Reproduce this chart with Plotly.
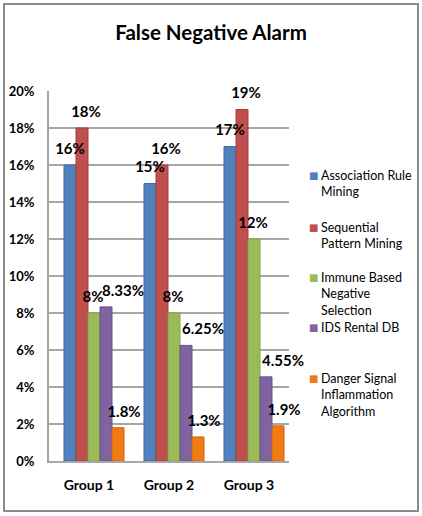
import plotly.graph_objects as go

groups = ["Group 1", "Group 2", "Group 3"]
series_names = [
    "Association Rule<br>Mining",
    "Sequential<br>Pattern Mining",
    "Immune Based<br>Negative<br>Selection",
    "IDS Rental DB",
    "Danger Signal<br>Inflammation<br>Algorithm",
]
assoc = [0.16, 0.15, 0.17]
seq = [0.18, 0.16, 0.19]
immune = [0.08, 0.08, 0.12]
ids = [0.0833, 0.0625, 0.0455]
danger = [0.018, 0.013, 0.019]
labels_assoc = ["16%", "15%", "17%"]
labels_seq = ["18%", "16%", "19%"]
labels_immune = ["8%", "8%", "12%"]
labels_ids = ["8.33%", "6.25%", "4.55%"]
labels_danger = ["1.8%", "1.3%", "1.9%"]
colors = ["#4F81BD", "#C0504D", "#9BBB59", "#8064A2", "#F07A14"]
edge = ["#3A6BA5", "#A33F3C", "#83A347", "#68508A", "#D0640A"]

W, H = 422, 516
ml, mr, mt, mb = 49, 133, 91, 55
pw, ph = W - ml - mr, H - mt - mb

def px2paper_x(px):
    return (px - ml) / pw

def px2paper_y(py):
    return (H - mb - py) / ph

all_vals = [assoc, seq, immune, ids, danger]
all_labs = [labels_assoc, labels_seq, labels_immune, labels_ids, labels_danger]

cat_px = pw / len(groups)          # pixels per category
bar_shift_px = 5                   # bars sit a little right of the group labels
label_shift_px = [0, 4, -1, 17, 6] # horizontal nudge of each series' value labels
label_lift = 0.0028                # lifts value labels slightly above the bar tops

def shifted_range(px):
    d = px / cat_px
    return [-0.5 - d, len(groups) - 0.5 - d]

fig = go.Figure()
# coloured bars
for name, vals, c, e in zip(series_names, all_vals, colors, edge):
    fig.add_trace(go.Bar(
        x=groups, y=vals, name=name,
        marker=dict(color=c, line=dict(color=e, width=1)),
        showlegend=False, xaxis="x", yaxis="y",
    ))

layout_axes = {}
# value labels on overlaid axis pairs so they are drawn on top of all bars
for i, labs in enumerate(all_labs):
    ax = i + 2
    for j, (name, vals) in enumerate(zip(series_names, all_vals)):
        fig.add_trace(go.Bar(
            x=groups, y=vals, name=name,
            text=labs if j == i else None,
            textposition="outside", cliponaxis=False, constraintext="none",
            textfont=dict(family="Lato", size=15, color="#000000", weight="bold"),
            marker=dict(color="rgba(0,0,0,0)", line=dict(width=0)),
            showlegend=False, hoverinfo="skip", xaxis=f"x{ax}", yaxis=f"y{ax}",
        ))
    layout_axes[f"xaxis{ax}"] = dict(overlaying="x", visible=False,
                                     range=shifted_range(bar_shift_px + label_shift_px[i]))
    layout_axes[f"yaxis{ax}"] = dict(overlaying="y", visible=False,
                                     range=[-label_lift, 0.2 - label_lift])

# legend drawn as annotations (small squares + wrapped text)
legend_first_line_y = [175, 227, 277, 327, 378]
for name, c, yc in zip(series_names, colors, legend_first_line_y):
    fig.add_annotation(xref="paper", yref="paper", x=px2paper_x(307), y=px2paper_y(yc),
                       xanchor="left", yanchor="middle", showarrow=False,
                       text="■", font=dict(family="DejaVu Sans", size=10, color=c))
    fig.add_annotation(xref="paper", yref="paper", x=px2paper_x(319), y=px2paper_y(yc - 9),
                       xanchor="left", yanchor="top", align="left", showarrow=False,
                       text=name, font=dict(family="Lato", size=12.5, color="#000000"))

fig.add_shape(type="rect", xref="paper", yref="paper",
              x0=px2paper_x(4), x1=px2paper_x(418), y0=px2paper_y(511), y1=px2paper_y(4),
              line=dict(color="#8C8C8C", width=2), layer="below")

fig.update_layout(
    width=W, height=H,
    margin=dict(l=ml, r=mr, t=mt, b=mb, autoexpand=False),
    paper_bgcolor="white", plot_bgcolor="white",
    barmode="group", bargap=0.25, bargroupgap=0.0,
    title=dict(text="<b>False Negative Alarm</b>", x=0.5, xref="container", xanchor="center",
               y=1 - 33 / H, yanchor="middle",
               font=dict(family="Lato", size=20.5, color="#000000")),
    font=dict(family="Lato", color="#000000"),
    showlegend=False,
    xaxis=dict(showgrid=False, showline=True, linecolor="#A6A6A6", linewidth=2,
               tickfont=dict(family="Lato", size=14, color="#000000", weight="bold"),
               ticks="", ticklabelstandoff=10, ticklabelshift=-bar_shift_px,
               range=shifted_range(bar_shift_px)),
    yaxis=dict(range=[0, 0.2], dtick=0.02, tickformat=".0%",
               showgrid=True, gridcolor="#A6A6A6", gridwidth=2,
               showline=True, linecolor="#A6A6A6", linewidth=2, zeroline=False,
               tickfont=dict(family="Lato", size=13, color="#000000", weight="bold"),
               ticks="", ticklabelstandoff=10),
    **layout_axes,
)

fig.write_html("out.html")
